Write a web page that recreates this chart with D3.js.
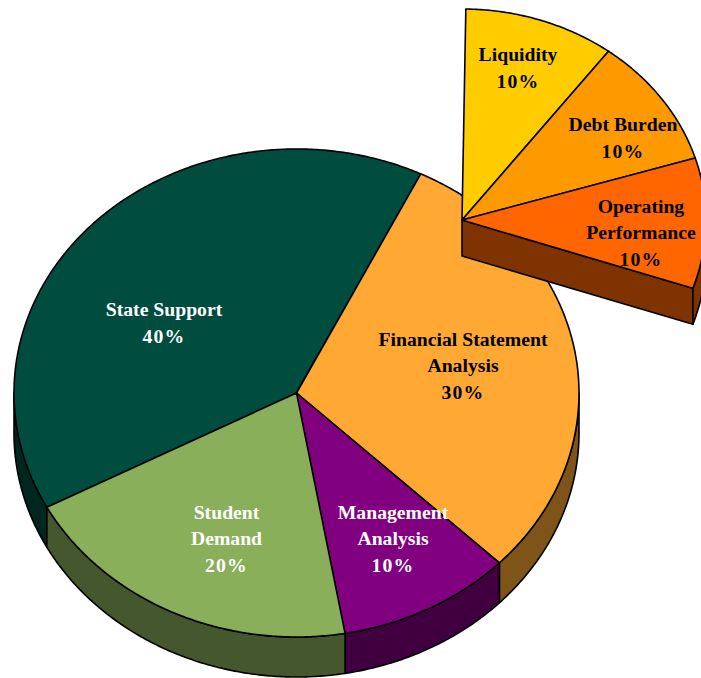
<!DOCTYPE html>
<html>
<head>
<meta charset="utf-8">
<style>
html, body { margin: 0; padding: 0; background: #fff; overflow: hidden; }
text { font-family: "Liberation Serif", serif; font-weight: bold; font-size: 19.7px; text-anchor: middle; }
</style>
<script src="https://cdn.jsdelivr.net/npm/d3@7"></script>
</head>
<body>
<svg id="chart" width="701" height="678"></svg>
<script>
// main pie, clockwise from the State Support edge
var mainNames = [["State Support"], ["Financial Statement", "Analysis"], ["Management", "Analysis"], ["Student", "Demand"]];
var mainValues = [40, 30, 10, 20];
var mainTop = ["#004d40", "#ffa833", "#800080", "#8aaf5b"];
var mainSide = ["#00271f", "#7f5419", "#400040", "#45572d"];
var mainInk = ["#fff", "#000", "#fff", "#fff"];

// the pulled out piece of Financial Statement Analysis
var partNames = [["Liquidity"], ["Debt Burden"], ["Operating", "Performance"]];
var partValues = [10, 10, 10];
var partTop = ["#ffcc00", "#ff9900", "#ff6600"];
var partSide = "#7f3300";

// label anchors, first baseline in px
var mainLabelX = [164, 463, 393, 226.5], mainLabelY = [316, 346, 519, 519], mainGap = [26.5, 26.3, 26.3, 26.3];
var partLabelX = [518, 623, 641], partLabelY = [61, 131, 213], partGap = [27, 27, 26.3];

var rad = Math.PI / 180;
var svg = d3.select("#chart");

function drawPie(opt) {
  // unit circle -> screen ellipse
  var px = d3.scaleLinear().domain([-1, 1]).range([opt.cx - opt.rx, opt.cx + opt.rx]),
  py = d3.scaleLinear().domain([-1, 1]).range([opt.cy - opt.ry, opt.cy + opt.ry]);

  var rim = d3.line()
  .x(function (a) {return px(Math.sin(a));})
  .y(function (a) {return py(-Math.cos(a));});

  function arcAngles(a0, a1) {
    var n = Math.max(2, Math.ceil((a1 - a0) / (0.5 * rad)));
    return d3.range(n + 1).map(function (i) {return a0 + (a1 - a0) * i / n;});
  }

  var slices = d3.pie().sort(null)
  .startAngle(opt.start * rad)
  .endAngle((opt.start + opt.sweep) * rad)(opt.values);

  var g = svg.append("g")
  .attr("stroke", "#000")
  .attr("stroke-width", 1.6)
  .attr("stroke-linejoin", "round");

  // flat cut face, only where the pie is not closed
  if (opt.sweep < 360) {
    var endA = slices[slices.length - 1].endAngle;
    g.append("path")
    .attr("fill", opt.side[slices.length - 1])
    .attr("d", "M" + [opt.cx, opt.cy] + "L" + [px(Math.sin(endA)), py(-Math.cos(endA))] +
      "L" + [px(Math.sin(endA)), py(-Math.cos(endA)) + opt.depth] + "L" + [opt.cx, opt.cy + opt.depth] + "Z");
  }

  // front rim walls
  slices.forEach(function (s, i) {
    [0, -2 * Math.PI].forEach(function (shift) {
      var a0 = Math.max(s.startAngle, Math.PI / 2 + shift),
      a1 = Math.min(s.endAngle, 3 * Math.PI / 2 + shift);
      if (a1 <= a0) return;
      var pts = arcAngles(a0, a1);
      var upper = rim(pts);
      var lower = d3.line()
      .x(function (a) {return px(Math.sin(a));})
      .y(function (a) {return py(-Math.cos(a)) + opt.depth;})(pts.slice().reverse());
      g.append("path")
      .attr("fill", opt.side[i])
      .attr("d", upper + "L" + lower.slice(1) + "Z");
    });
  });

  // top faces
  g.selectAll("path.top")
  .data(slices)
  .enter().append("path")
  .attr("class", "top")
  .attr("fill", function (d, i) {return opt.top[i];})
  .attr("d", function (d) {
    return "M" + [opt.cx, opt.cy] + "L" + rim(arcAngles(d.startAngle, d.endAngle)).slice(1) + "Z";
  });
}

function drawLabels(names, values, xs, ys, gaps, ink) {
  names.forEach(function (lines, i) {
    var t = svg.append("text")
    .attr("fill", ink[i]);
    lines.forEach(function (line, k) {
      t.append("tspan")
      .attr("x", xs[i])
      .attr("y", ys[i] + k * gaps[i])
      .text(line);
    });
    // the percent line sits a little wider in the original
    t.append("tspan")
    .attr("x", xs[i])
    .attr("y", ys[i] + lines.length * gaps[i])
    .attr("letter-spacing", "1.2px")
    .text(values[i] + "%");
  });
}

drawPie({
  cx: 296.5, cy: 393, rx: 282.5, ry: 244, depth: 40,
  start: -117.9, sweep: 360,
  values: mainValues, top: mainTop, side: mainSide
});

drawPie({
  cx: 462, cy: 220, rx: 244, ry: 211, depth: 36,
  start: 0.9, sweep: 108,
  values: partValues, top: partTop, side: [partSide, partSide, partSide]
});

drawLabels(mainNames, mainValues, mainLabelX, mainLabelY, mainGap, mainInk);
drawLabels(partNames, partValues, partLabelX, partLabelY, partGap, ["#000", "#000", "#000"]);
</script>
</body>
</html>
